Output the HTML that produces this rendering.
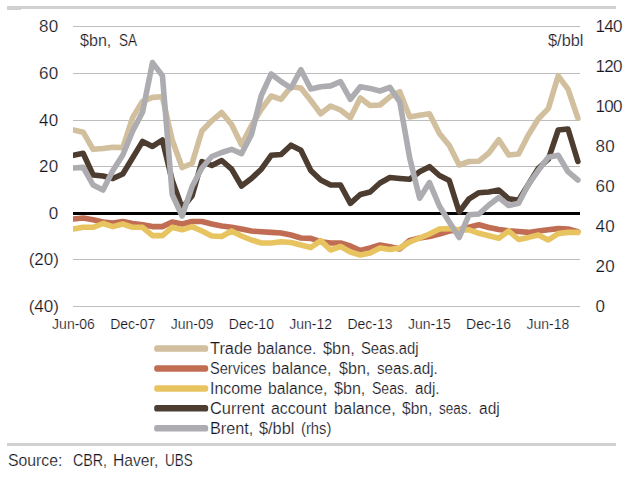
<!DOCTYPE html>
<html><head><meta charset="utf-8"><style>
html,body{margin:0;padding:0;background:#fff}
body{width:633px;height:477px;position:relative;overflow:hidden;font-family:"Liberation Sans",sans-serif;color:#14141e}
.t{position:absolute;white-space:pre;line-height:1;-webkit-text-stroke:0.2px #fff}
</style></head><body>
<svg width="633" height="477" viewBox="0 0 633 477" style="position:absolute;left:0;top:0">
<defs><clipPath id="cp"><rect x="73" y="0" width="520" height="330"/></clipPath></defs>
<rect x="7" y="6" width="609" height="3" fill="#d1d1d1"/>
<rect x="7" y="6" width="14" height="4" fill="#d1d1d1"/>
<rect x="7" y="443" width="609" height="3" fill="#d1d1d1"/>
<line x1="73" x2="580" y1="26.5" y2="26.5" stroke="#bdbdbd" stroke-width="1" shape-rendering="crispEdges"/>
<line x1="73" x2="580" y1="73.5" y2="73.5" stroke="#bdbdbd" stroke-width="1" shape-rendering="crispEdges"/>
<line x1="73" x2="580" y1="120.5" y2="120.5" stroke="#bdbdbd" stroke-width="1" shape-rendering="crispEdges"/>
<line x1="73" x2="580" y1="166.5" y2="166.5" stroke="#bdbdbd" stroke-width="1" shape-rendering="crispEdges"/>
<line x1="73" x2="580" y1="259.5" y2="259.5" stroke="#bdbdbd" stroke-width="1" shape-rendering="crispEdges"/>
<line x1="73" x2="580" y1="306.5" y2="306.5" stroke="#bdbdbd" stroke-width="1" shape-rendering="crispEdges"/>
<g fill="none" stroke-width="5.6" stroke-linejoin="round" stroke-linecap="round" clip-path="url(#cp)">
<polyline stroke="#d1bf9e" points="73.3,130.0 83.2,132.2 93.1,149.3 103.0,148.5 112.9,147.2 122.8,147.6 132.7,117.4 142.6,101.3 152.5,97.4 162.4,96.8 172.2,140.0 182.1,167.5 192.0,163.5 201.9,131.0 211.8,120.8 221.7,112.5 231.6,124.6 241.5,144.8 251.4,125.8 261.3,109.4 271.2,96.0 281.1,99.3 291.0,86.7 300.9,88.0 310.8,100.6 320.7,113.7 330.6,106.0 340.5,110.0 350.4,117.7 360.3,98.0 370.1,105.5 380.0,105.0 389.9,96.8 399.8,91.7 409.7,117.0 419.6,115.2 429.5,113.7 439.4,133.4 449.3,145.5 459.2,165.0 469.1,161.5 479.0,161.2 488.9,153.0 498.8,139.7 508.7,155.0 518.6,154.0 528.5,134.7 538.4,118.8 548.3,108.6 558.2,75.8 568.0,89.2 577.9,118.2"/>
<polyline stroke="#c16d53" points="73.3,219.0 83.2,218.0 93.1,219.7 103.0,222.0 112.9,223.0 122.8,221.5 132.7,223.5 142.6,224.8 152.5,226.6 162.4,226.6 172.2,222.0 182.1,224.0 192.0,221.5 201.9,221.5 211.8,224.0 221.7,226.0 231.6,227.3 241.5,229.0 251.4,231.0 261.3,231.7 271.2,232.4 281.1,233.0 291.0,235.0 300.9,238.0 310.8,238.4 320.7,241.7 330.6,243.0 340.5,243.0 350.4,246.0 360.3,250.5 370.1,248.0 380.0,245.0 389.9,246.8 399.8,249.0 409.7,240.4 419.6,238.0 429.5,236.5 439.4,234.0 449.3,231.0 459.2,229.8 469.1,227.3 479.0,224.8 488.9,227.5 498.8,229.5 508.7,230.8 518.6,231.5 528.5,232.4 538.4,231.0 548.3,229.8 558.2,228.6 568.0,229.0 577.9,231.6"/>
<polyline stroke="#e8c461" points="73.3,229.0 83.2,227.3 93.1,227.3 103.0,223.5 112.9,226.6 122.8,224.0 132.7,227.3 142.6,227.3 152.5,235.6 162.4,235.6 172.2,227.3 182.1,229.8 192.0,226.6 201.9,231.0 211.8,236.0 221.7,236.5 231.6,231.0 241.5,236.0 251.4,240.0 261.3,243.0 271.2,243.0 281.1,241.7 291.0,242.5 300.9,245.0 310.8,247.5 320.7,240.6 330.6,250.0 340.5,246.5 350.4,252.0 360.3,255.0 370.1,253.0 380.0,248.0 389.9,249.5 399.8,248.0 409.7,242.0 419.6,238.0 429.5,234.0 439.4,229.0 449.3,228.6 459.2,230.0 469.1,229.8 479.0,233.3 488.9,235.7 498.8,238.2 508.7,231.0 518.6,239.5 528.5,237.4 538.4,235.0 548.3,240.0 558.2,233.6 568.0,232.4 577.9,232.4"/>
</g>
<rect x="73" y="212" width="507" height="3" fill="#000"/>
<g fill="none" stroke-width="5.6" stroke-linejoin="round" stroke-linecap="round" clip-path="url(#cp)">
<polyline stroke="#4d3c30" points="73.3,155.3 83.2,153.3 93.1,175.0 103.0,176.0 112.9,178.5 122.8,174.0 132.7,157.8 142.6,141.4 152.5,146.4 162.4,140.0 172.2,180.5 182.1,208.0 192.0,196.0 201.9,161.6 211.8,165.4 221.7,160.5 231.6,169.2 241.5,186.0 251.4,178.5 261.3,169.2 271.2,155.3 281.1,154.5 291.0,145.2 300.9,150.2 310.8,170.4 320.7,180.0 330.6,185.0 340.5,185.0 350.4,203.3 360.3,194.5 370.1,192.0 380.0,183.0 389.9,177.5 399.8,178.5 409.7,179.3 419.6,171.7 429.5,166.7 439.4,175.5 449.3,180.6 459.2,212.0 469.1,198.8 479.0,192.7 488.9,192.0 498.8,190.0 508.7,198.8 518.6,200.3 528.5,184.3 538.4,168.3 548.3,159.3 558.2,130.0 568.0,129.0 577.9,161.5"/>
<polyline stroke="#adadb1" points="73.3,168.0 83.2,167.4 93.1,185.0 103.0,190.0 112.9,170.4 122.8,155.0 132.7,131.0 142.6,112.0 152.5,62.6 162.4,75.6 172.2,194.5 182.1,216.0 192.0,186.8 201.9,168.0 211.8,156.5 221.7,152.5 231.6,149.3 241.5,153.6 251.4,134.7 261.3,95.5 271.2,74.0 281.1,81.6 291.0,88.0 300.9,69.7 310.8,89.0 320.7,86.7 330.6,85.9 340.5,81.6 350.4,99.3 360.3,86.7 370.1,88.4 380.0,91.0 389.9,87.4 399.8,102.0 409.7,158.0 419.6,198.2 429.5,182.6 439.4,206.0 449.3,222.0 459.2,237.5 469.1,214.7 479.0,214.0 488.9,205.0 498.8,197.5 508.7,205.5 518.6,203.3 528.5,184.3 538.4,170.4 548.3,157.3 558.2,155.3 568.0,171.7 577.9,180.0"/>
</g>
<rect x="154.2" y="345.25" width="54" height="6.5" rx="2.6" fill="#d1bf9e"/>
<rect x="154.2" y="365.20" width="54" height="6.5" rx="2.6" fill="#c16d53"/>
<rect x="154.2" y="385.15" width="54" height="6.5" rx="2.6" fill="#e8c461"/>
<rect x="154.2" y="405.10" width="54" height="6.5" rx="2.6" fill="#4d3c30"/>
<rect x="154.2" y="425.05" width="54" height="6.5" rx="2.6" fill="#adadb1"/>
</svg>
<div class="t" style="top:18.01px;font-size:17px;left:0;width:58.6px;text-align:right;letter-spacing:0.4px;margin-right:-0.4px">80</div>
<div class="t" style="top:65.01px;font-size:17px;left:0;width:58.6px;text-align:right;letter-spacing:0.4px;margin-right:-0.4px">60</div>
<div class="t" style="top:112.01px;font-size:17px;left:0;width:58.6px;text-align:right;letter-spacing:0.4px;margin-right:-0.4px">40</div>
<div class="t" style="top:158.01px;font-size:17px;left:0;width:58.6px;text-align:right;letter-spacing:0.4px;margin-right:-0.4px">20</div>
<div class="t" style="top:205.01px;font-size:17px;left:0;width:58.6px;text-align:right;letter-spacing:0.4px;margin-right:-0.4px">0</div>
<div class="t" style="top:251.01px;font-size:17px;left:0;width:58.9px;text-align:right;letter-spacing:0px">(20)</div>
<div class="t" style="top:298.01px;font-size:17px;left:0;width:58.9px;text-align:right;letter-spacing:0px">(40)</div>
<div class="t" style="top:18.01px;font-size:17px;left:595.5px;letter-spacing:-0.7px">140</div>
<div class="t" style="top:58.01px;font-size:17px;left:595.5px;letter-spacing:-0.7px">120</div>
<div class="t" style="top:98.01px;font-size:17px;left:595.5px;letter-spacing:-0.7px">100</div>
<div class="t" style="top:138.01px;font-size:17px;left:595.5px;letter-spacing:0.2px">80</div>
<div class="t" style="top:178.01px;font-size:17px;left:595.5px;letter-spacing:0.2px">60</div>
<div class="t" style="top:218.01px;font-size:17px;left:595.5px;letter-spacing:0.2px">40</div>
<div class="t" style="top:258.01px;font-size:17px;left:595.5px;letter-spacing:0.2px">20</div>
<div class="t" style="top:298.01px;font-size:17px;left:595.5px;letter-spacing:0.2px">0</div>
<div class="t" style="top:316.55px;font-size:14px;left:43.5px;width:60px;text-align:center">Jun-06</div>
<div class="t" style="top:316.55px;font-size:14px;left:102.8px;width:60px;text-align:center">Dec-07</div>
<div class="t" style="top:316.55px;font-size:14px;left:162.1px;width:60px;text-align:center">Jun-09</div>
<div class="t" style="top:316.55px;font-size:14px;left:221.4px;width:60px;text-align:center">Dec-10</div>
<div class="t" style="top:316.55px;font-size:14px;left:280.7px;width:60px;text-align:center">Jun-12</div>
<div class="t" style="top:316.55px;font-size:14px;left:340.0px;width:60px;text-align:center">Dec-13</div>
<div class="t" style="top:316.55px;font-size:14px;left:399.3px;width:60px;text-align:center">Jun-15</div>
<div class="t" style="top:316.55px;font-size:14px;left:458.6px;width:60px;text-align:center">Dec-16</div>
<div class="t" style="top:316.55px;font-size:14px;left:517.9px;width:60px;text-align:center">Jun-18</div>
<div class="t" style="top:33.36px;left:80.40px;font-size:16px;transform-origin:0 0;transform:scaleX(1.0053)">$bn,</div>
<div class="t" style="top:33.36px;left:118.70px;font-size:16px;transform-origin:0 0;transform:scaleX(0.8433)">SA</div>
<div class="t" style="top:33.36px;left:547.90px;font-size:16px;transform-origin:0 0;transform:scaleX(1.0234)">$/bbl</div>
<div class="t" style="top:341.16px;left:209.60px;font-size:16px;transform-origin:0 0;transform:scaleX(1.0243)">Trade</div>
<div class="t" style="top:341.16px;left:256.80px;font-size:16px;transform-origin:0 0;transform:scaleX(0.9819)">balance.</div>
<div class="t" style="top:341.16px;left:322.50px;font-size:16px;transform-origin:0 0;transform:scaleX(1.0245)">$bn,</div>
<div class="t" style="top:341.16px;left:360.70px;font-size:16px;transform-origin:0 0;transform:scaleX(0.9250)">Seas.adj</div>
<div class="t" style="top:361.11px;left:209.80px;font-size:16px;transform-origin:0 0;transform:scaleX(0.9110)">Services</div>
<div class="t" style="top:361.11px;left:272.00px;font-size:16px;transform-origin:0 0;transform:scaleX(0.9819)">balance,</div>
<div class="t" style="top:361.11px;left:339.00px;font-size:16px;transform-origin:0 0;transform:scaleX(1.0053)">$bn,</div>
<div class="t" style="top:361.11px;left:376.60px;font-size:16px;transform-origin:0 0;transform:scaleX(0.9480)">seas.adj.</div>
<div class="t" style="top:381.06px;left:209.80px;font-size:16px;transform-origin:0 0;transform:scaleX(0.9931)">Income</div>
<div class="t" style="top:381.06px;left:268.20px;font-size:16px;transform-origin:0 0;transform:scaleX(0.9819)">balance,</div>
<div class="t" style="top:381.06px;left:333.90px;font-size:16px;transform-origin:0 0;transform:scaleX(1.0053)">$bn,</div>
<div class="t" style="top:381.06px;left:372.30px;font-size:16px;transform-origin:0 0;transform:scaleX(0.8775)">Seas.</div>
<div class="t" style="top:381.06px;left:415.30px;font-size:16px;transform-origin:0 0;transform:scaleX(0.9499)">adj.</div>
<div class="t" style="top:401.01px;left:209.80px;font-size:16px;transform-origin:0 0;transform:scaleX(1.0232)">Current</div>
<div class="t" style="top:401.01px;left:270.70px;font-size:16px;transform-origin:0 0;transform:scaleX(0.9923)">account</div>
<div class="t" style="top:401.01px;left:333.90px;font-size:16px;transform-origin:0 0;transform:scaleX(1.0199)">balance,</div>
<div class="t" style="top:401.01px;left:401.90px;font-size:16px;transform-origin:0 0;transform:scaleX(0.9732)">$bn,</div>
<div class="t" style="top:401.01px;left:439.00px;font-size:16px;transform-origin:0 0;transform:scaleX(0.8473)">seas.</div>
<div class="t" style="top:401.01px;left:479.00px;font-size:16px;transform-origin:0 0;transform:scaleX(0.9698)">adj</div>
<div class="t" style="top:420.96px;left:209.80px;font-size:16px;transform-origin:0 0;transform:scaleX(1.0120)">Brent,</div>
<div class="t" style="top:420.96px;left:259.30px;font-size:16px;transform-origin:0 0;transform:scaleX(1.0205)">$/bbl</div>
<div class="t" style="top:420.96px;left:301.00px;font-size:16px;transform-origin:0 0;transform:scaleX(0.9246)">(rhs)</div>
<div class="t" style="top:452.02px;left:8.40px;font-size:16.4px;transform-origin:0 0;transform:scaleX(0.9626)">Source:</div>
<div class="t" style="top:452.02px;left:72.80px;font-size:16.4px;transform-origin:0 0;transform:scaleX(0.8704)">CBR,</div>
<div class="t" style="top:452.02px;left:113.10px;font-size:16.4px;transform-origin:0 0;transform:scaleX(0.9558)">Haver,</div>
<div class="t" style="top:452.02px;left:165.10px;font-size:16.4px;transform-origin:0 0;transform:scaleX(0.8185)">UBS</div>
</body></html>
